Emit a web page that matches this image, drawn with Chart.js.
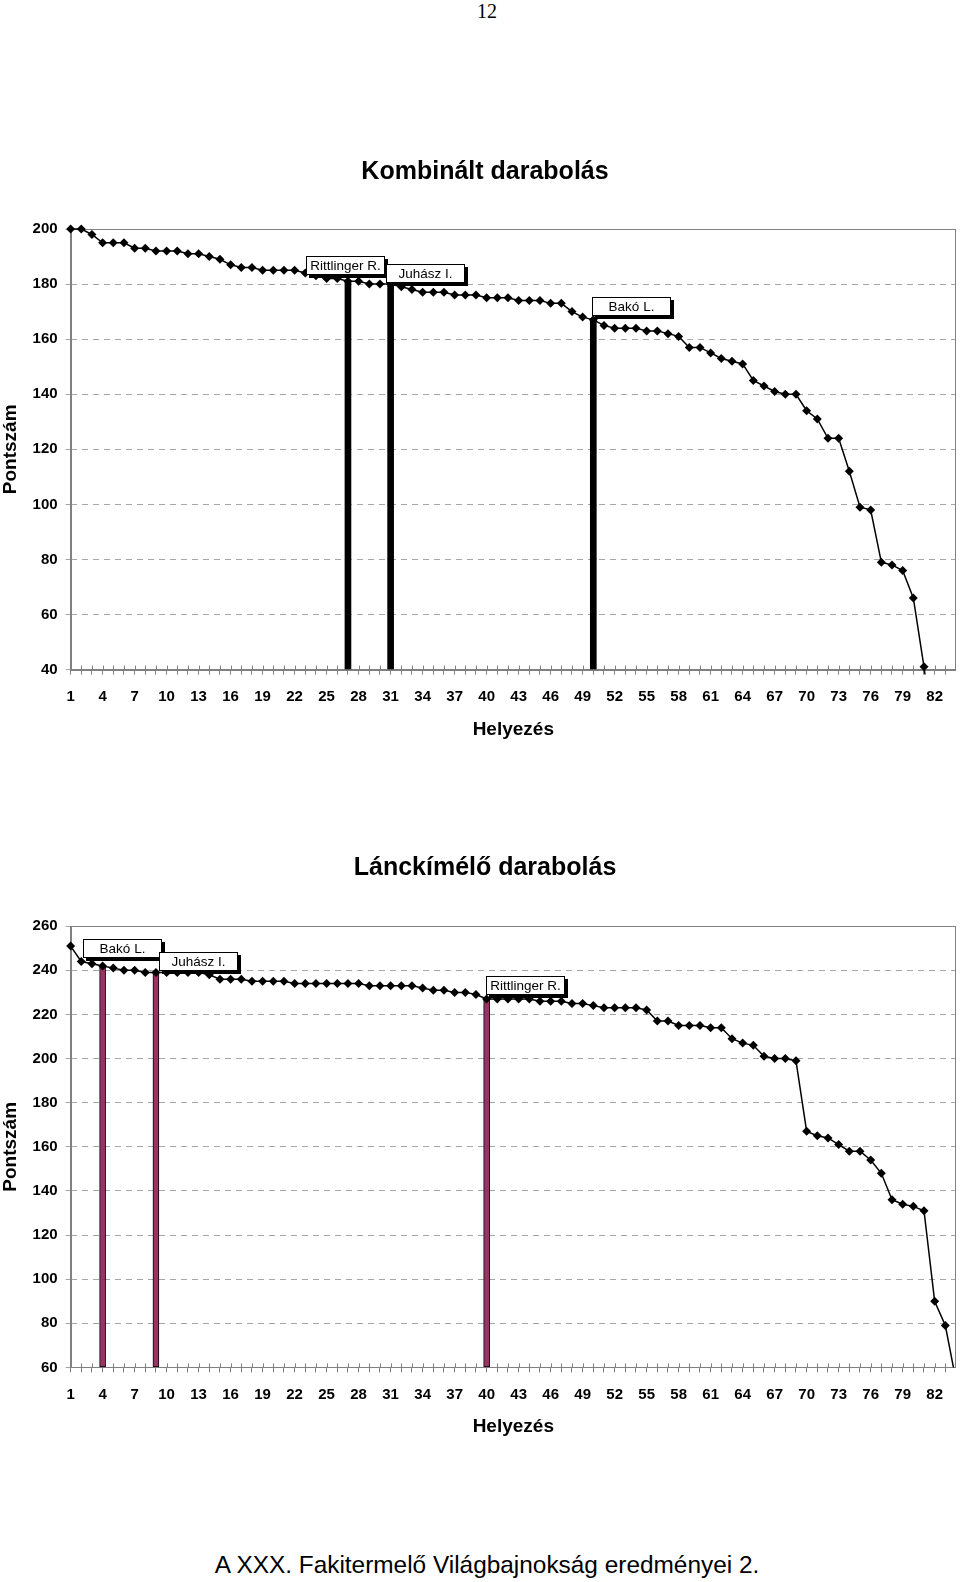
<!DOCTYPE html>
<html lang="hu">
<head>
<meta charset="utf-8">
<title>Kombinált és lánckímélő darabolás</title>
<script src="https://cdn.jsdelivr.net/npm/chart.js@4.4.1/dist/chart.umd.min.js"></script>
<style>
  body { margin: 0; background: #fff; }
  #page { position: relative; width: 960px; height: 1582px; overflow: hidden; }
  #page-number { position: absolute; top: 0; left: 0; width: 974px; text-align: center; font-family: 'Liberation Serif', 'Times New Roman', serif; font-size: 20px; line-height: 23px; }
  #footer { position: absolute; top: 1551px; left: 0; width: 974px; text-align: center; font-family: 'Liberation Sans', Arial, sans-serif; font-size: 24.4px; line-height: 28px; }
  canvas { position: absolute; left: 0; }
  #kombinalt { top: 140px; }
  #lanckimelo { top: 830px; }
</style>
</head>
<body>
<div id="page">
  <div id="page-number">12</div>
  <canvas id="kombinalt" width="956" height="610"></canvas>
  <canvas id="lanckimelo" width="956" height="618"></canvas>
  <div id="footer">A XXX. Fakitermelő Világbajnokság eredményei 2.</div>
</div>
<script>
'use strict';

// data

// placings 1..84 on the category axis
const places = Array.from({ length: 84 }, (_, i) => String(i + 1));

const kombinaltScores = [
  200, 200, 198, 195, 195, 195, 193, 193, 192, 192,
  192, 191, 191, 190, 189, 187, 186, 186, 185, 185,
  185, 185, 184, 183, 182, 182, 181, 181, 180, 180,
  180, 179, 178, 177, 177, 177, 176, 176, 176, 175,
  175, 175, 174, 174, 174, 173, 173, 170, 168, 167,
  165, 164, 164, 164, 163, 163, 162, 161, 157, 157,
  155, 153, 152, 151, 145, 143, 141, 140, 140, 134,
  131, 124, 124, 112, 99, 98, 79, 78, 76, 66,
  41, 10
];
const kombinaltNames = ['Rittlinger R.', 'Juhász I.', 'Bakó L.'];
const kombinaltPlaces = [27, 31, 50];
const kombinaltYTicks = [40, 60, 80, 100, 120, 140, 160, 180, 200];

const lanckimeloScores = [
  251, 244, 243, 242, 241, 240, 240, 239, 239, 239,
  239, 239, 239, 238, 236, 236, 236, 235, 235, 235,
  235, 234, 234, 234, 234, 234, 234, 234, 233, 233,
  233, 233, 233, 232, 231, 231, 230, 230, 229, 227,
  227, 227, 227, 227, 226, 226, 226, 225, 225, 224,
  223, 223, 223, 223, 222, 217, 217, 215, 215, 215,
  214, 214, 209, 207, 206, 201, 200, 200, 199, 167,
  165, 164, 161, 158, 158, 154, 148, 136, 134, 133,
  131, 90, 79, 54
];
const lanckimeloNames = ['Bakó L.', 'Juhász I.', 'Rittlinger R.'];
const lanckimeloPlaces = [4, 9, 40];
const lanckimeloYTicks = [60, 80, 100, 120, 140, 160, 180, 200, 220, 240, 260];

// styles

const FONT = '"Liberation Sans", Arial, sans-serif';
Chart.defaults.font.family = FONT;
Chart.defaults.color = '#000';

// label box offsets from the bar top, in pixels
const kombinaltLabelOffsets = [[-42, -25], [-5, -20], [-1, -23]];
const lanckimeloLabelOffsets = [[-20, -27], [3, -21], [-1, -23]];

// plugins

const plotFrame = {
  id: 'plotFrame',
  beforeDatasetsDraw(chart) {
    const { ctx, chartArea: a, scales: { x } } = chart;
    ctx.save();
    ctx.strokeStyle = '#808080';
    ctx.lineWidth = 1;
    ctx.beginPath();
    for (let i = 0; i < x.ticks.length; i++) {
      let px = Math.round(x.getPixelForTick(i)) + 0.5;
      ctx.moveTo(px, a.bottom - 4);
      ctx.lineTo(px, a.bottom);
    }
    ctx.stroke();
    ctx.strokeRect(Math.round(a.left) + 0.5, Math.round(a.top) + 0.5,
      Math.round(a.right - a.left) - 1, Math.round(a.bottom - a.top));
    ctx.restore();
  }
};

const nameLabels = {
  id: 'nameLabels',
  afterDatasetsDraw(chart, args, opts) {
    const meta = chart.getDatasetMeta(1);
    const ctx = chart.ctx;
    const w = 79;
    const h = 19;
    ctx.save();
    ctx.font = '13.5px ' + FONT;
    ctx.textAlign = 'center';
    ctx.textBaseline = 'middle';
    opts.names.forEach((name, i) => {
      let bar = meta.data[opts.places[i] - 1];
      let x = Math.round(bar.x + opts.offsets[i][0]);
      let y = Math.round(bar.y + opts.offsets[i][1]);
      ctx.fillStyle = '#000';
      ctx.fillRect(x + 3, y + 3, w, h);
      ctx.fillStyle = '#fff';
      ctx.fillRect(x, y, w, h);
      ctx.strokeStyle = '#000';
      ctx.lineWidth = 1;
      ctx.strokeRect(x + 0.5, y + 0.5, w - 1, h - 1);
      ctx.fillStyle = '#000';
      ctx.fillText(name, x + w / 2, y + h / 2 + 1);
    });
    ctx.restore();
  }
};

// functions

function highlightBars(scores, highlightPlaces) {
  return places.map((p, i) => highlightPlaces.includes(i + 1) ? scores[i] : null);
}

function makeChart(canvasId, cfg) {
  const yMin = cfg.yTicks[0];
  const yMax = cfg.yTicks[cfg.yTicks.length - 1];
  return new Chart(document.getElementById(canvasId), {
    type: 'line',
    data: {
      labels: places,
      datasets: [
        {
          type: 'line',
          data: cfg.scores,
          borderColor: '#000',
          borderWidth: 1.5,
          pointStyle: 'rectRot',
          pointRadius: 4.5,
          pointBackgroundColor: '#000',
          pointBorderColor: '#000',
          pointBorderWidth: 0,
          clip: cfg.clip,
          order: 0
        },
        {
          type: 'bar',
          data: highlightBars(cfg.scores, cfg.places),
          base: yMin,
          backgroundColor: cfg.barColor,
          borderColor: '#000',
          borderWidth: cfg.barBorder,
          borderSkipped: false,
          barThickness: 6,
          order: 1
        }
      ]
    },
    options: {
      responsive: false,
      animation: false,
      events: [],
      layout: { autoPadding: false, padding: { left: 14, right: 0, top: 0, bottom: 0 } },
      plugins: {
        legend: { display: false },
        tooltip: { enabled: false },
        title: {
          display: true,
          text: cfg.title,
          font: { size: 25, weight: 'bold' },
          color: '#000',
          padding: { top: cfg.titleTop, bottom: cfg.titleBottom }
        },
        nameLabels: { names: cfg.names, places: cfg.places, offsets: cfg.offsets }
      },
      scales: {
        x: {
          type: 'category',
          offset: false,
          grid: { drawOnChartArea: false, offset: false, color: '#808080', tickLength: 5 },
          border: { display: true, color: '#808080' },
          ticks: {
            autoSkip: false,
            maxRotation: 0,
            padding: 13,
            font: { size: 15, weight: 'bold' },
            color: '#000',
            callback: function (value, index) {
              return index % 3 === 0 ? this.getLabelForValue(value) : '';
            }
          },
          title: {
            display: true,
            text: 'Helyezés',
            font: { size: 19, weight: 'bold' },
            color: '#000',
            padding: { top: 0, bottom: cfg.xTitleBottom }
          },
          afterFit: (scale) => {
            scale.height = cfg.xHeight;
            scale.paddingLeft = 0;
            scale.paddingRight = 0;
          }
        },
        y: {
          min: yMin,
          max: yMax,
          ticks: { stepSize: cfg.yTicks[1] - cfg.yTicks[0], padding: 8, font: { size: 15, weight: 'bold' }, color: '#000' },
          grid: { color: '#a6a6a6', tickLength: 5, tickBorderDash: [] },
          border: { display: true, color: '#808080', dash: [6, 5] },
          title: {
            display: true,
            text: 'Pontszám',
            font: { size: 19, weight: 'bold' },
            color: '#000',
            padding: { top: -15, bottom: 0 }
          },
          afterFit: (scale) => { scale.width = 56.6; }
        }
      }
    },
    plugins: [plotFrame, nameLabels]
  });
}

// executable code

makeChart('kombinalt', {
  title: 'Kombinált darabolás',
  scores: kombinaltScores,
  names: kombinaltNames,
  places: kombinaltPlaces,
  offsets: kombinaltLabelOffsets,
  yTicks: kombinaltYTicks,
  barColor: '#000',
  barBorder: 0,
  clip: { left: 5, top: 5, right: 5, bottom: 5 },
  titleTop: 17,
  titleBottom: 42,
  xHeight: 80.4,
  xTitleBottom: 9.2
});

makeChart('lanckimelo', {
  title: 'Lánckímélő darabolás',
  scores: lanckimeloScores,
  names: lanckimeloNames,
  places: lanckimeloPlaces,
  offsets: lanckimeloLabelOffsets,
  yTicks: lanckimeloYTicks,
  barColor: '#993366',
  barBorder: 1,
  clip: { left: 5, top: 5, right: 5, bottom: 0 },
  titleTop: 23,
  titleBottom: 43.2,
  xHeight: 80.6,
  xTitleBottom: 10.2
});
</script>
</body>
</html>
